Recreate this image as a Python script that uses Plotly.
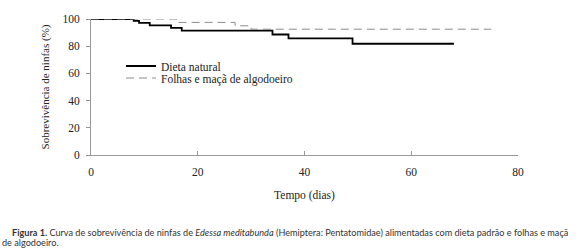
import plotly.graph_objects as go

# Data
dias_natural = [0, 8, 9, 11, 15, 17, 34, 37, 49, 68]
sobrev_natural = [100, 98.6, 97.1, 95.3, 93.5, 91.4, 88.6, 85.7, 81.8, 81.8]
dias_algodao = [0, 16, 27, 30, 75]
sobrev_algodao = [100, 97.5, 95.0, 92.5, 92.5]
x_ticks = [0, 20, 40, 60, 80]
y_ticks = [0, 20, 40, 60, 80, 100]

SERIF = "Liberation Serif"

fig = go.Figure()
fig.add_trace(go.Scatter(
    x=dias_natural, y=sobrev_natural, mode="lines", line_shape="hv",
    name="Dieta natural", line=dict(color="black", width=1.8),
    legend="legend"))
fig.add_trace(go.Scatter(
    x=dias_algodao, y=sobrev_algodao, mode="lines", line_shape="hv",
    name="Folhas e maçã de algodoeiro",
    line=dict(color="#8c8c8c", width=1, dash="8px,5px"),
    legend="legend2"))

leg_common = dict(xanchor="left", yanchor="middle", bgcolor="rgba(0,0,0,0)",
                  font=dict(family=SERIF, size=11.5), itemwidth=30,
                  borderwidth=0)

fig.update_layout(
    width=579, height=250,
    margin=dict(l=91, r=61, t=19, b=95),
    paper_bgcolor="white", plot_bgcolor="white",
    font=dict(family=SERIF, size=11, color="#222"),
    showlegend=True,
    legend=dict(x=(121 - 91) / 427, y=(155 - 66) / 136, **leg_common),
    legend2=dict(x=(121 - 91) / 427, y=(155 - 78) / 136, **leg_common),
    xaxis=dict(range=[0, 80], tickvals=x_ticks, showgrid=False, zeroline=False,
               showline=True, linecolor="#999", linewidth=1,
               ticks="inside", ticklen=4, tickcolor="#999",
               ticklabelstandoff=6,
               title=dict(text="Tempo (dias)", standoff=14,
                          font=dict(family=SERIF, size=11.5)),
               tickfont=dict(family=SERIF, size=11.5)),
    yaxis=dict(range=[0, 100], tickvals=y_ticks, showgrid=False, zeroline=False,
               showline=True, linecolor="#999", linewidth=1,
               ticks="outside", ticklen=4, tickcolor="#999",
               ticklabelstandoff=4,
               title=dict(text="Sobrevivência de ninfas (%)", standoff=10,
                          font=dict(family=SERIF, size=11)),
               tickfont=dict(family=SERIF, size=11.5)),
)

cap_font = dict(family="Lato", size=9.15, color="#333")
fig.add_annotation(
    xref="paper", yref="paper", x=-(91 - 10) / 427, y=-(232 - 155) / 136,
    xanchor="left", yanchor="middle", showarrow=False, align="left",
    text="<b>Figura 1.</b> Curva de sobrevivência de ninfas de <i>Edessa meditabunda</i> "
         "(Hemiptera: Pentatomidae) alimentadas com dieta padrão e folhas e maçã",
    font=cap_font)
fig.add_annotation(
    xref="paper", yref="paper", x=-(91 - 0) / 427, y=-(242.5 - 155) / 136,
    xanchor="left", yanchor="middle", showarrow=False, align="left",
    text="de algodoeiro.", font=cap_font)

fig.write_html("out.html", config={"displayModeBar": False},
               post_script="document.body.style.margin='0';document.body.style.padding='0';")
